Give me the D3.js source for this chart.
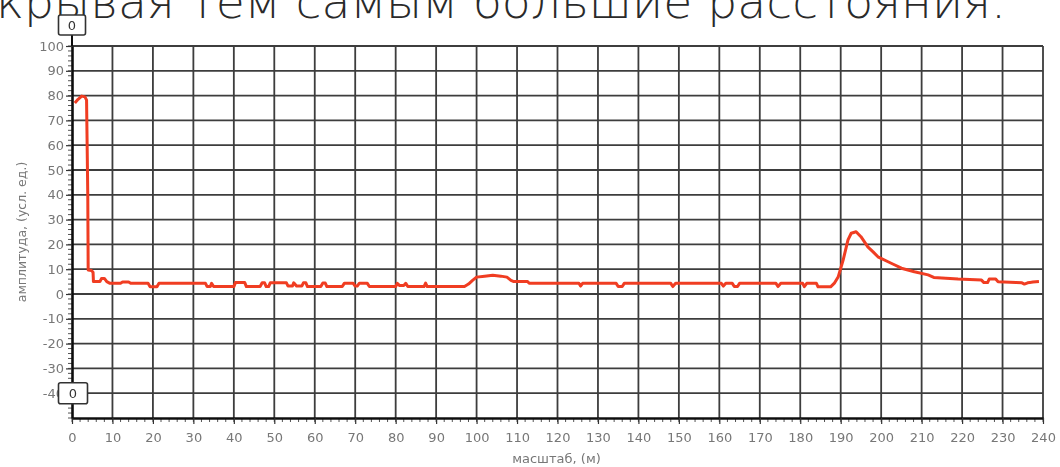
<!DOCTYPE html>
<html>
<head>
<meta charset="utf-8">
<script src="https://cdn.jsdelivr.net/npm/d3@7"></script>
<style>
  body { margin: 0; background: #fff; }
  svg { display: block; }
</style>
</head>
<body>
<script>
// data
const titleText = "крывая тем самым большие расстояния.";
const xTicks = [0, 10, 20, 30, 40, 50, 60, 70, 80, 90, 100, 110, 120, 130, 140, 150, 160, 170, 180, 190, 200, 210, 220, 230, 240];
const yTicks = [100, 90, 80, 70, 60, 50, 40, 30, 20, 10, 0, -10, -20, -30, -40];
const xLabel = "масштаб, (м)";
const yLabel = "амплитуда, (усл. ед.)";
const markerLabel = "0";

// distance (m)
const dist = [0.7, 1.5, 2.4, 3.2, 3.6, 3.9, 4.0, 4.8, 5.2, 5.3, 6.9, 7.3, 8.0, 8.6, 9.4, 12, 12.5, 14, 14.5, 18.8,
  19.3, 21.0, 21.5, 33.0, 33.4, 34.2, 34.5, 35.0, 40.0, 40.4, 42.7, 43.1, 46.5, 47.0, 47.6, 48.0, 48.6, 49.0, 53.0, 53.4,
  54.5, 54.8, 55.5, 56.8, 57.2, 57.8, 58.2, 61.5, 62.0, 62.6, 63.0, 66.8, 67.3, 69.5, 70.0, 70.5, 71.0, 73.0, 73.5, 80.0,
  80.4, 81.0, 82.0, 82.5, 83.0, 87.0, 87.4, 87.8, 97.0, 98.0, 99.0, 100.0, 102, 104, 106, 107.5, 108.5, 109.2, 112.6, 113,
  125.3, 125.7, 126.2, 134.5, 135, 136, 136.5, 148, 148.5, 149.2, 160.5, 161, 161.6, 163.2, 163.7, 164.5, 165, 174, 174.5, 175.2,
  180.6, 181, 181.6, 184, 184.4, 187.5, 188.5, 189.4, 190.6, 191.8, 192.6, 193.8, 195, 196.7, 198, 199.2, 201.7, 203, 205, 208.2,
  211.6, 213, 219, 224.8, 225.4, 226.3, 226.7, 228.3, 228.9, 234.8, 235.4, 236.2, 237.5, 239];
// amplitude
const amp = [77, 78.5, 79.8, 79.5, 78.2, 40, 9.7, 9.5, 8.8, 5.0, 5.0, 6.3, 6.3, 5.0, 4.3, 4.3, 4.8, 4.8, 4.3, 4.3,
  2.9, 2.9, 4.3, 4.3, 3.0, 3.0, 4.3, 3.0, 3.0, 4.6, 4.6, 3.0, 3.0, 4.5, 4.5, 3.0, 3.0, 4.5, 4.5, 3.2,
  3.2, 4.5, 3.2, 3.2, 4.5, 4.5, 3.0, 3.0, 4.4, 4.4, 3.0, 3.0, 4.3, 4.3, 3.2, 3.2, 4.3, 4.3, 3.0, 3.0,
  4.3, 3.4, 3.4, 4.3, 3.0, 3.0, 4.4, 3.0, 3.0, 4.0, 5.5, 6.8, 7.2, 7.6, 7.2, 6.8, 5.5, 5.0, 5.0, 4.3,
  4.3, 3.2, 4.3, 4.3, 3.0, 3.0, 4.3, 4.3, 3.0, 4.3, 4.3, 3.2, 4.3, 4.3, 3.0, 3.0, 4.3, 4.3, 3.0, 4.3,
  4.3, 3.0, 4.3, 4.3, 2.9, 2.9, 4.5, 7.0, 13.7, 21.8, 24.5, 25.1, 23.1, 19, 17, 15, 13, 12, 10.4, 9.0,
  7.7, 6.7, 6.0, 5.6, 4.6, 4.6, 6.0, 6.0, 4.9, 4.5, 4.0, 4.5, 4.8, 5.0];

const width = 1060;
const height = 467;
const margin = { top: 46, right: 17, bottom: 49, left: 72 };
const w = width - margin.left - margin.right;
const h = height - margin.top - margin.bottom;
const labelFont = "DejaVu Sans, Verdana, sans-serif";

const svg = d3.select("body").append("svg")
  .attr("width", width)
  .attr("height", height);

// the source image is a little soft
svg.append("defs").append("filter").attr("id", "soft")
  .append("feGaussianBlur").attr("stdDeviation", 0.55);

// title line cut off at the top
svg.append("text")
  .attr("x", -4)
  .attr("y", 18)
  .attr("font-family", "DejaVu Sans")
  .attr("font-weight", 200)
  .attr("font-size", 46)
  .attr("fill", "#2a2a2a")
  .attr("textLength", 1010)
  .attr("lengthAdjust", "spacingAndGlyphs")
  .text(titleText);

const g = svg.append("g")
  .attr("filter", "url(#soft)")
  .attr("transform", `translate(${margin.left},${margin.top})`);

const x = d3.scaleLinear().domain([0, 240]).range([0, w]);
const y = d3.scaleLinear().domain([-50, 100]).range([h, 0]);

// grid
g.append("g")
  .selectAll("line")
  .data(xTicks.filter((d) => d > 0))
  .join("line")
  .attr("x1", (d) => x(d)).attr("x2", (d) => x(d))
  .attr("y1", 0).attr("y2", h)
  .attr("stroke", "#3c3c3c")
  .attr("stroke-width", 1.8);

g.append("g")
  .selectAll("line")
  .data(yTicks)
  .join("line")
  .attr("x1", 0).attr("x2", w)
  .attr("y1", (d) => y(d)).attr("y2", (d) => y(d))
  .attr("stroke", "#3c3c3c")
  .attr("stroke-width", 1.8);

// minor ticks
g.append("g")
  .selectAll("line")
  .data(d3.range(0, 241, 2))
  .join("line")
  .attr("x1", (d) => x(d)).attr("x2", (d) => x(d))
  .attr("y1", h).attr("y2", h + 4)
  .attr("stroke", "#555")
  .attr("stroke-width", 1);

g.append("g")
  .selectAll("line")
  .data(d3.range(-50, 101, 2))
  .join("line")
  .attr("x1", -4).attr("x2", 0)
  .attr("y1", (d) => y(d)).attr("y2", (d) => y(d))
  .attr("stroke", "#555")
  .attr("stroke-width", 1);

// x axis
const xAxis = g.append("g")
  .attr("transform", `translate(0,${h})`)
  .call(d3.axisBottom(x).tickValues(xTicks).tickSize(6).tickSizeOuter(0));
xAxis.select(".domain").attr("stroke", "#111").attr("stroke-width", 2.6);
xAxis.selectAll(".tick line").attr("stroke", "#333").attr("stroke-width", 1.2);
xAxis.selectAll("text")
  .attr("dy", 0)
  .attr("y", 24)
  .attr("font-family", labelFont)
  .attr("font-size", 13)
  .attr("fill", "#777");

// y axis (plain hyphen for negatives, as in the source)
const yAxis = g.append("g")
  .call(d3.axisLeft(y).tickValues(yTicks).tickFormat((d) => String(d)).tickSize(6).tickSizeOuter(0));
yAxis.select(".domain").attr("stroke", "#111").attr("stroke-width", 2.6);
yAxis.selectAll(".tick line").attr("stroke", "#333").attr("stroke-width", 1.2);
yAxis.selectAll("text")
  .attr("x", -8)
  .attr("font-family", labelFont)
  .attr("font-size", 13)
  .attr("fill", "#777");

// axis titles
g.append("text")
  .attr("x", x(120) - 1)
  .attr("y", h + 45)
  .attr("text-anchor", "middle")
  .attr("font-family", labelFont)
  .attr("font-size", 13)
  .attr("fill", "#777")
  .text(xLabel);

g.append("text")
  .attr("transform", `translate(${-margin.left + 26},${y(25)}) rotate(-90)`)
  .attr("text-anchor", "middle")
  .attr("font-family", labelFont)
  .attr("font-size", 12.5)
  .attr("fill", "#777")
  .text(yLabel);

// trace
const line = d3.line()
  .x((d, i) => x(dist[i]))
  .y((d) => y(d));

g.append("path")
  .datum(amp)
  .attr("d", line)
  .attr("fill", "none")
  .attr("stroke", "#f03c22")
  .attr("stroke-width", 3)
  .attr("stroke-linejoin", "round");

// "0" markers
const markers = [
  { cx: x(0), cy: -21, w: 27, h: 20 },
  { cx: x(0) + 1, cy: y(-40), w: 29, h: 21 }
];
g.append("line")
  .attr("x1", x(0)).attr("x2", x(0))
  .attr("y1", -11).attr("y2", 0)
  .attr("stroke", "#111").attr("stroke-width", 2);

const mk = g.append("g").selectAll("g").data(markers).join("g");
mk.append("rect")
  .attr("x", (d) => d.cx - d.w / 2)
  .attr("y", (d) => d.cy - d.h / 2)
  .attr("width", (d) => d.w)
  .attr("height", (d) => d.h)
  .attr("rx", 2)
  .attr("fill", "#fff")
  .attr("stroke", "#333")
  .attr("stroke-width", 1.6);
mk.append("text")
  .attr("x", (d) => d.cx)
  .attr("y", (d) => d.cy + 5)
  .attr("text-anchor", "middle")
  .attr("font-family", labelFont)
  .attr("font-size", 13)
  .attr("fill", "#333")
  .text(markerLabel);
</script>
</body>
</html>
